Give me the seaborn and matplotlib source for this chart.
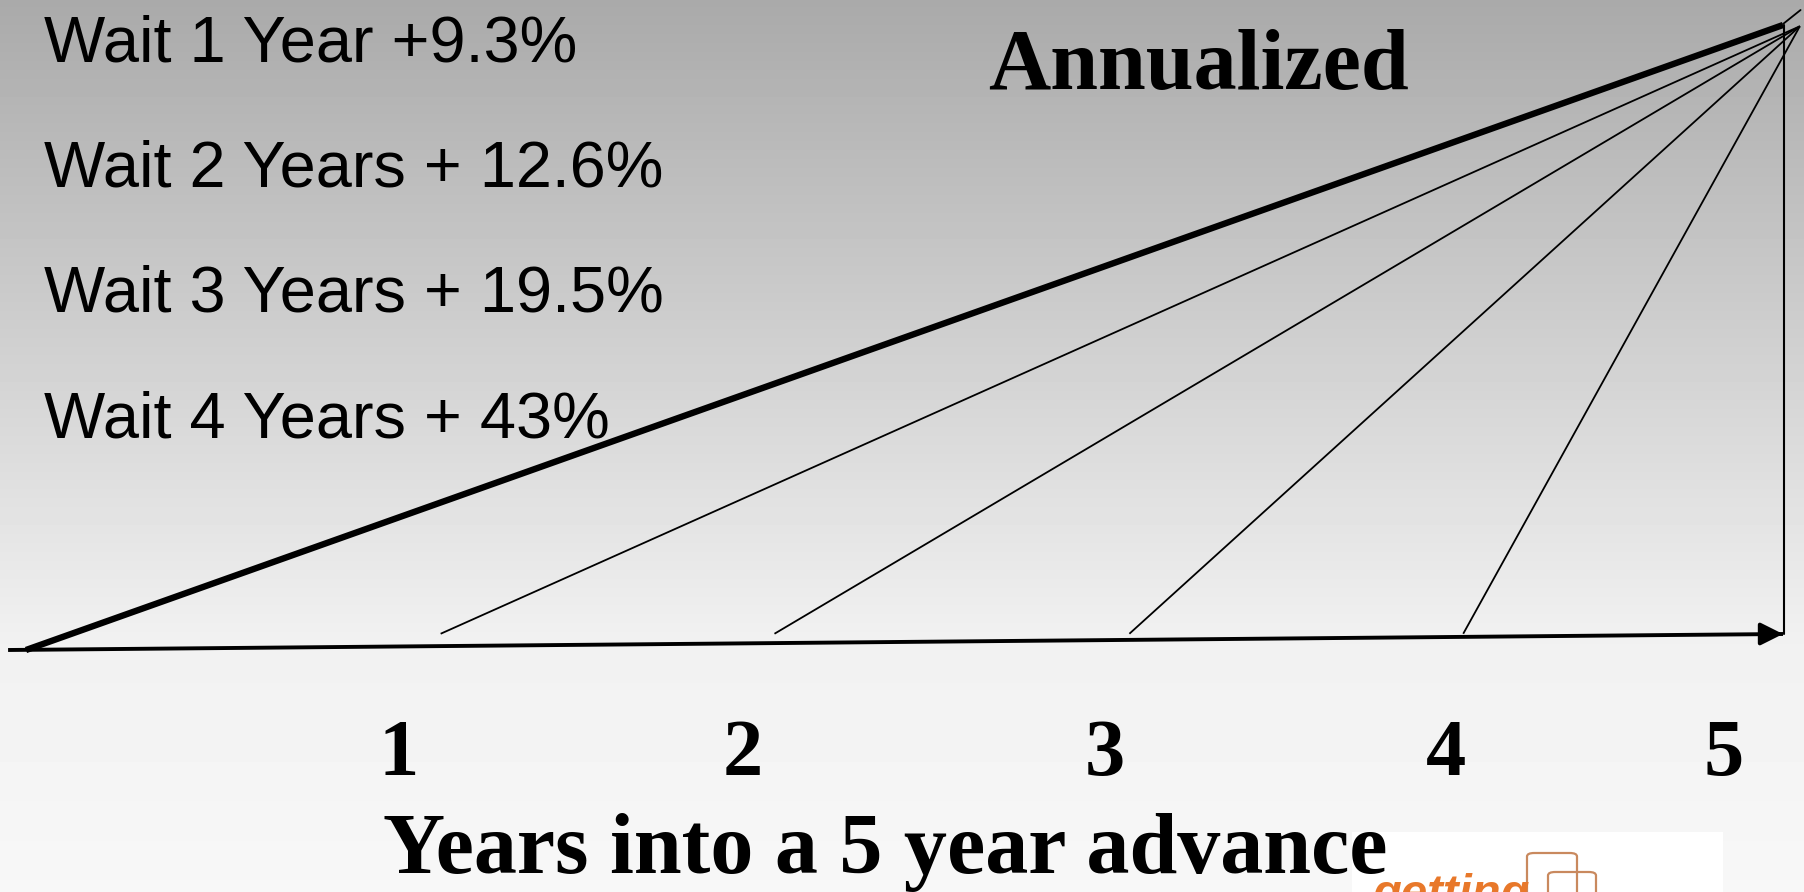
import numpy as np
import pandas as pd
import matplotlib
matplotlib.use("Agg")
import matplotlib.pyplot as plt
from matplotlib.patches import Rectangle, FancyBboxPatch
import seaborn as sns

sns.set_theme(style="white")
plt.rcParams["font.family"] = ["Liberation Sans", "DejaVu Sans"]
plt.rcParams["text.color"] = "black"

# Wait-period labels (annualized gain for each waiting period)
wait_labels = ["Wait 1 Year +9.3%", "Wait 2 Years + 12.6%",
               "Wait 3 Years + 19.5%", "Wait 4 Years + 43%"]

# Year ticks along the bottom
year_ticks = ["1", "2", "3", "4", "5"]
year_tick_pos = [1.06, 2.04, 3.07, 4.04, 4.83]

# Growth lines: each one starts at the year it is bought and rises to the top at year 5
series = ["Year 0", "Year 1", "Year 2", "Year 3", "Year 4"]
start_x = [0.0, 1.18, 2.13, 3.14, 4.09]
start_y = [0.0, 0.026, 0.026, 0.026, 0.026]
end_x = [5.0, 5.048, 5.048, 5.048, 5.048]
end_y = [1.0, 0.998, 0.998, 0.998, 0.998]

# Time axis (slightly rising baseline) and the closing vertical at year 5
base_x = [-0.051, 5.0]
base_y = [0.0, 0.0256]
vert_x = [5.003, 5.003]
vert_y = [1.0, 0.026]
tip_x = [5.0, 5.05]
tip_y = [1.0016, 1.024]

W, H = 1804, 892
fig = plt.figure(figsize=(W / 100, H / 100), dpi=100)

def fx(px):
    return px / W

def fy(py):
    return 1 - py / H

# Background: vertical grey gradient
bg = fig.add_axes([0, 0, 1, 1], zorder=0)
rows = np.arange(H)
shade = np.interp(rows, [0, 640, H], [0.665, 0.945, 0.97])
grad = np.tile(shade[:, None], (1, 16))
bg.imshow(grad, cmap="gray", vmin=0, vmax=1, aspect="auto",
          extent=[0, 1, 0, 1], interpolation="nearest")
bg.set_axis_off()

ax = fig.add_axes([0, 0, 1, 1], zorder=1)
ax.patch.set_alpha(0)
sx = 351.4
ax.set_xlim(-26 / sx, (W - 26) / sx)
ax.set_ylim(-(H - 650) / 625, 650 / 625)
ax.set_axis_off()

df = pd.DataFrame({
    "x": start_x + end_x,
    "y": start_y + end_y,
    "series": series + series,
    "weight": ["thick"] + ["thin"] * 4 + ["thick"] + ["thin"] * 4,
})
sns.lineplot(data=df, x="x", y="y", units="series", estimator=None,
             size="weight", sizes={"thick": 4.6, "thin": 1.3},
             color="black", sort=False, legend=False, ax=ax,
             solid_capstyle="butt")

ax.plot(base_x, base_y, color="black", lw=2.8, solid_capstyle="butt")
ax.annotate("", xy=(base_x[1], base_y[1]),
            xytext=(base_x[1] - 0.06, base_y[1]),
            arrowprops=dict(arrowstyle="-|>", color="black", lw=2.8,
                            mutation_scale=34, shrinkA=0, shrinkB=0))
ax.plot(vert_x, vert_y, color="black", lw=1.5)
ax.plot(tip_x, tip_y, color="black", lw=1.3)

# Left-hand wait labels
for i, lab in enumerate(wait_labels):
    fig.text(fx(44), fy(61 + i * 125.4), lab, fontsize=46.7,
             family="Liberation Sans", va="baseline", ha="left",
             color="black", zorder=3)

fig.text(fx(988), fy(89), "Annualized", fontsize=62, family="Liberation Serif",
         weight="bold", va="baseline", ha="left", color="black", zorder=3)

# Year numbers along the bottom
for pos, lab in zip(year_tick_pos, year_ticks):
    ax.text(pos, -(775 - 650) / 625, lab, fontsize=58, family="Liberation Serif",
            weight="bold", va="baseline", ha="center", color="black", zorder=3)

# Logo block in the lower right
fig.patches.append(Rectangle((fx(1352), 0), fx(1723) - fx(1352), fy(832),
                             transform=fig.transFigure, facecolor="white",
                             edgecolor="none", zorder=2))
fig.text(fx(1372), fy(907), "getting", fontsize=34, family="Liberation Sans",
         style="italic", weight="bold", color="#e8782a", va="baseline",
         ha="left", zorder=4)
for (x0, y0, x1, y1) in [(1527, 853, 1577, 905), (1548, 872, 1596, 925)]:
    fig.patches.append(FancyBboxPatch((fx(x0), fy(y1)), fx(x1) - fx(x0),
                                      fy(y0) - fy(y1),
                                      boxstyle="round,pad=0,rounding_size=0.004",
                                      transform=fig.transFigure,
                                      facecolor="none", edgecolor="#c9895e",
                                      lw=1.6, zorder=4))

fig.text(fx(383), fy(873), "Years into a 5 year advance", fontsize=62,
         family="Liberation Serif", weight="bold", va="baseline", ha="left",
         color="black", zorder=5)

fig.savefig("out.png", dpi=100)
